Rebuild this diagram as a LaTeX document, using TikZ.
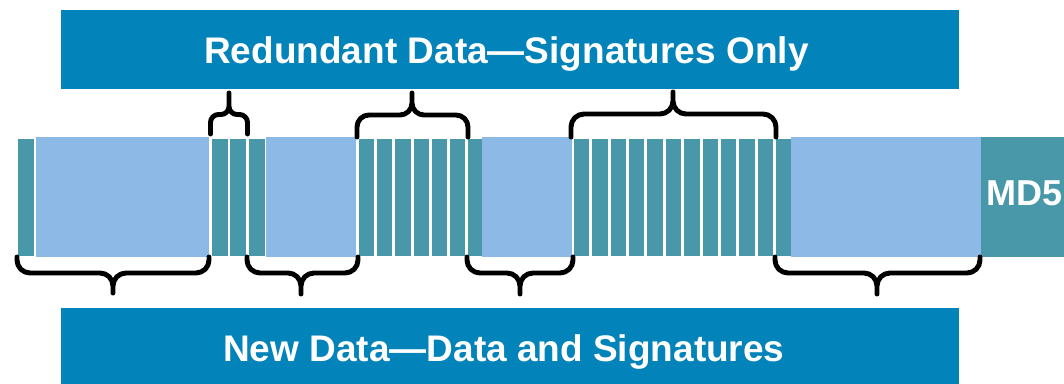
\documentclass[tikz,border=0pt]{standalone}
\usepackage{fontspec}
\setmainfont{Liberation Sans}

\definecolor{banner}{RGB}{2,131,185}
\definecolor{segteal}{RGB}{73,152,170}
\definecolor{segblue}{RGB}{141,185,230}

\tikzset{
  banner box/.style={fill=banner, draw=none, inner sep=0pt, outer sep=0pt},
  sig bar/.style={fill=segteal, draw=none, inner sep=0pt, outer sep=0pt},
  data block/.style={fill=segblue, draw=none, inner sep=0pt, outer sep=0pt},
  label text/.style={text=white, font=\bfseries\fontsize{27.75}{33}\selectfont,
                     inner sep=0pt, anchor=base west},
  brace line/.style={draw=black, line width=3.7pt, line join=round, line cap=round},
}

% rectangle node: style, name, left x, top y, width, height (all in px units)
\newcommand\segnode[6]{%
  \node[#1, anchor=north west, minimum width=#5*0.75pt, minimum height=#6*0.75pt] (#2) at (#3,#4) {};}

% curly brace: left x, right x, tip x, end y, arm y, tip y, corner radius (px)
\newcommand\curlybrace[7]{%
  \draw[brace line, rounded corners=#7*0.75pt]
    (#1,#4) -- (#1,#5) -- (#3,#5) -- (#3,#6)
    (#2,#4) -- (#2,#5) -- (#3,#5) -- (#3,#6);}

\begin{document}
\begin{tikzpicture}[x=0.75pt, y=-0.75pt]
  \clip (0,0) rectangle (1064,383);

  % banners
  \segnode{banner box}{topbanner}{61}{10}{898}{79}
  \segnode{banner box}{botbanner}{61}{308}{898}{80}
  \node[label text] (toplabel) at (204,63) {Redundant Data—Signatures Only};
  \node[label text] (botlabel) at (223,361) {New Data—Data and Signatures};

  % data stream: signature bars and data blocks
  \segnode{sig bar}{s0}{18}{139}{16}{117}
  \segnode{data block}{d1}{36}{137}{173}{120}
  \foreach \i in {0,...,2} {
    \pgfmathsetmacro\xl{212+18.3*\i}
    \segnode{sig bar}{ga-\i}{\xl}{139}{16}{117}
  }
  \segnode{data block}{d2}{266}{137}{90}{120}
  \foreach \i in {0,...,6} {
    \pgfmathsetmacro\xl{359+18.17*\i}
    \segnode{sig bar}{gb-\i}{\xl}{139}{15.3}{117}
  }
  \segnode{data block}{d3}{482}{137}{90}{120}
  \foreach \i in {0,...,11} {
    \pgfmathsetmacro\xl{574+18.36*\i}
    \segnode{sig bar}{gc-\i}{\xl}{139}{15.4}{117}
  }
  \segnode{data block}{d4}{791}{137}{190}{120}
  \segnode{sig bar}{md5}{981}{137}{100}{120}
  \node[label text, font=\bfseries\fontsize{27}{32}\selectfont] (md5label) at (986,205) {MD5};

  % braces over redundant runs
  \curlybrace{210.5}{247.5}{229}{134}{114.5}{93}{8}
  \curlybrace{357}{468}{412}{137}{115}{93}{12}
  \curlybrace{571}{776}{673}{137}{114}{92}{13}

  % braces under new data
  \curlybrace{17}{209}{113}{257}{273}{293}{13}
  \curlybrace{247}{358}{301}{257}{273}{294}{13}
  \curlybrace{467}{573}{520}{257}{273}{294}{13}
  \curlybrace{775}{980}{877}{257}{273}{294}{13}
\end{tikzpicture}
\end{document}
